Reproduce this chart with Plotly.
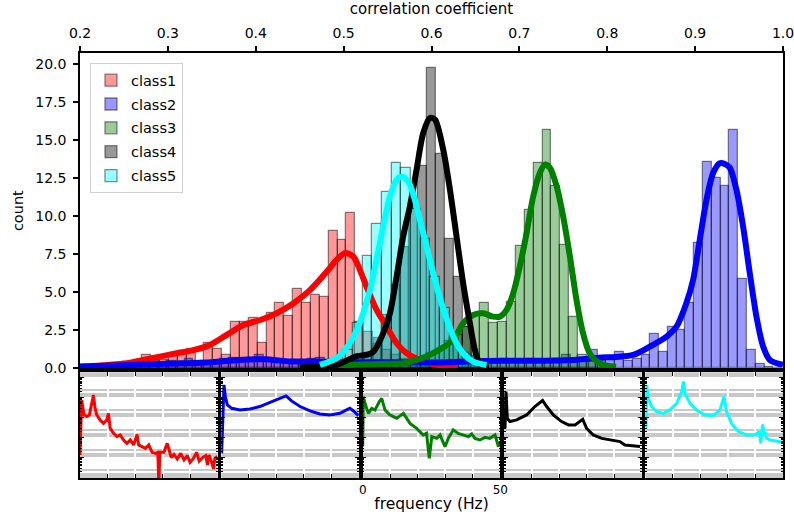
import plotly.graph_objects as go

# ---------------- main histogram data ----------------
class_names = ["class1", "class2", "class3", "class4", "class5"]

# bin layout per class (left edge of first bin, bin width) – data units
bin_start_1, bin_width_1 = 0.2002, 0.0101
counts_1 = [0.1, 0.1, 0.1, 0.15, 0.15, 0.2, 0.2, 0.88, 0.45, 0.55, 0.88, 0.99, 1.25, 0.33,
            1.65, 1.25, 0.9, 3.07, 3.03, 3.3, 1.65, 3.63, 4.28, 3.45, 5.23, 4.28, 4.81, 4.68,
            9.05, 8.46, 10.2, 3.07, 2.4, 1.6, 1.2, 0.9, 0.6, 0.4, 0.3, 0.2, 0.15, 0.1]

bin_start_2, bin_width_2 = 0.199, 0.01
counts_2 = [0.1, 0.1, 0.15, 0.2, 0.2, 0.3, 0.3, 0.35, 0.4, 0.4,
            0.5, 0.4, 0.6, 0.5, 0.4, 0.3, 0.6, 0.7, 0.5, 0.4,
            0.9, 0.5, 0.4, 0.5, 0.4, 0.5, 0.6, 0.7, 0.5, 0.4,
            0.4, 0.3, 0.4, 0.5, 0.4, 0.3, 0.3, 0.4, 0.5, 0.4,
            0.3, 0.3, 0.5, 0.4, 0.6, 0.4, 0.5, 0.4, 0.6, 0.5,
            0.5, 0.6, 0.5, 0.4, 0.6, 0.9, 0.5, 0.4, 1.2, 0.5,
            0.6, 1.05, 0.5, 0.6, 0.9, 2.26, 1.1, 2.7, 2.49, 4.28,
            8.24, 13.6, 12.5, 12.0, 15.66, 5.9, 1.2, 0.3, 0.1, 0.0]

bin_start_3, bin_width_3 = 0.48405, 0.0101
counts_3 = [0.1, 0.1, 0.15, 0.2, 0.2, 0.25, 0.3, 0.3, 0.35, 0.5, 0.6, 1.0, 1.3, 1.8, 2.2,
            2.7, 3.6, 4.28, 2.97, 3.08, 4.39, 8.02, 10.4, 13.5, 15.66, 12.0, 8.1, 3.4,
            0.88, 0.4, 0.2, 0.1]

bin_start_4, bin_width_4 = 0.49395, 0.0101
counts_4 = [0.2, 0.5, 0.8, 1.0, 2.0, 3.5, 5.5, 8.0, 11.0, 13.3, 19.76, 14.1, 8.5, 6.0, 2.7,
            0.8, 0.2]

bin_start_5, bin_width_5 = 0.4668, 0.011
counts_5 = [0.2, 0.3, 0.5, 1.2, 3.0, 7.4, 9.5, 11.6, 13.5, 13.2, 10.5, 8.5, 6.0, 4.0, 2.0,
            1.0, 0.4]

# density curves (correlation coefficient, count)
kde1_x = [0.2, 0.253, 0.272, 0.291, 0.31, 0.329, 0.348, 0.367, 0.386, 0.405, 0.424, 0.443,
          0.462, 0.481, 0.492, 0.5015, 0.511, 0.5185, 0.526, 0.5375, 0.549, 0.5603, 0.5717,
          0.5868, 0.6, 0.615, 0.63]
kde1_y = [0.1, 0.33, 0.55, 0.77, 0.99, 1.2, 1.54, 2.2, 2.85, 3.18, 3.63, 4.28, 5.16, 6.37,
          7.14, 7.58, 7.36, 6.48, 5.38, 3.84, 2.74, 1.65, 0.99, 0.55, 0.3, 0.15, 0.05]

kde2_x = [0.2, 0.25, 0.3, 0.35, 0.38, 0.41, 0.44, 0.47, 0.5, 0.53, 0.56, 0.6, 0.64, 0.68,
          0.72, 0.76, 0.79, 0.81, 0.8295, 0.8485, 0.8675, 0.8788, 0.89, 0.8977, 0.9053,
          0.913, 0.9205, 0.928, 0.9338, 0.9395, 0.947, 0.9546, 0.9622, 0.9698, 0.9774,
          0.985, 1.0]
kde2_y = [0.12, 0.2, 0.3, 0.4, 0.55, 0.6, 0.45, 0.45, 0.4, 0.4, 0.4, 0.38, 0.45, 0.5, 0.5,
          0.55, 0.7, 0.75, 0.88, 1.43, 2.09, 2.74, 4.28, 5.82, 8.46, 11.1, 12.85, 13.5,
          13.45, 13.2, 11.75, 9.33, 6.26, 3.4, 1.43, 0.55, 0.22]

kde3_x = [0.48, 0.52, 0.55, 0.568, 0.583, 0.598, 0.6247, 0.636, 0.6475, 0.6588, 0.670,
          0.6778, 0.6854, 0.693, 0.7005, 0.7082, 0.7157, 0.7233, 0.729, 0.7347, 0.7423,
          0.7498, 0.7574, 0.765, 0.7725, 0.78, 0.7916, 0.81]
kde3_y = [0.15, 0.25, 0.3, 0.33, 0.55, 0.88, 1.87, 2.97, 3.51, 3.62, 3.4, 3.4, 3.84, 4.94,
          6.7, 8.9, 11.3, 12.85, 13.4, 13.2, 12.0, 10.0, 7.4, 4.5, 2.3, 0.99, 0.33, 0.1]

kde4_x = [0.45, 0.48, 0.492, 0.503, 0.515, 0.527, 0.534, 0.545, 0.5527, 0.5603, 0.5678,
          0.5754, 0.583, 0.5906, 0.5982, 0.604, 0.6133, 0.621, 0.6285, 0.636, 0.6437,
          0.6494, 0.655, 0.665]
kde4_y = [0.05, 0.15, 0.22, 0.5, 0.8, 0.9, 1.1, 2.3, 3.63, 6.04, 8.68, 10.65, 13.07, 15.5,
          16.48, 16.37, 14.4, 11.75, 8.68, 5.6, 2.97, 1.2, 0.3, 0.05]

kde5_x = [0.473, 0.492, 0.503, 0.515, 0.5223, 0.53, 0.5375, 0.545, 0.5527, 0.5603, 0.566,
          0.5735, 0.581, 0.5887, 0.5963, 0.6039, 0.6115, 0.619, 0.6266, 0.636, 0.6475, 0.6627]
kde5_y = [0.22, 0.66, 1.32, 2.52, 3.63, 5.16, 7.14, 9.33, 11.3, 12.4, 12.6, 12.3, 11.1, 9.33,
          7.58, 5.82, 4.28, 2.97, 1.87, 0.99, 0.44, 0.22]

# ---------------- spectra (frequency Hz, log10 amplitude) ----------------
red_f = [0.0, 0.61, 1.46, 2.44, 3.41, 4.27, 4.88, 5.48, 6.09, 7.31, 8.53, 9.75, 10.36, 10.97,
         12.19, 13.41, 14.63, 15.85, 17.06, 18.28, 19.5, 20.72, 21.33, 22.55, 23.77, 24.99,
         26.2, 27.43, 28.28, 28.65, 29.0, 30.48, 31.7, 32.3, 33.16, 34.13, 35.35, 36.57,
         37.8, 39.0, 40.0, 41.2, 42.4, 43.3, 44.5, 45.7, 46.3, 46.9, 47.8, 48.5, 49.0, 50.0]
red_p = [-3.85, -1.1, -1.85, -1.93, -1.85, -1.35, -0.85, -1.52, -1.85, -2.1, -2.27, -2.1,
         -1.77, -2.52, -2.77, -2.93, -2.85, -3.1, -3.27, -3.1, -3.35, -2.82, -3.35, -3.43,
         -3.52, -3.35, -3.72, -3.77, -3.72, -5.4, -3.72, -3.72, -3.27, -3.55, -3.98, -3.82,
         -4.05, -3.77, -4.1, -3.88, -4.22, -4.02, -3.72, -4.15, -3.98, -3.88, -4.35, -3.85,
         -4.18, -4.55, -4.02, -3.93]

blue_f = [0.11, 0.48, 0.96, 1.45, 2.17, 3.75, 6.77, 10.4, 14.0, 17.7, 21.3, 23.5, 25.5, 28.6,
          32.2, 35.8, 39.5, 43.1, 45.5, 46.7, 48.0, 49.8]
blue_p = [-3.77, -1.85, -0.35, -0.93, -1.35, -1.52, -1.6, -1.55, -1.43, -1.22, -1.02, -0.9,
          -1.15, -1.43, -1.65, -1.8, -1.85, -1.77, -1.6, -1.52, -1.65, -1.88]

green_f = [0.0, 0.24, 1.2, 2.06, 3.27, 4.48, 6.06, 6.9, 8.1, 9.9, 12.36, 14.8, 16.0, 17.2,
           19.6, 20.8, 22.0, 23.2, 24.2, 25.1, 26.9, 28.1, 29.9, 31.1, 32.9, 34.7, 36.6,
           38.4, 39.6, 40.8, 42.6, 44.4, 46.2, 48.1, 49.3, 49.8]
green_p = [-3.43, -0.93, -1.43, -1.77, -1.52, -1.6, -1.18, -1.02, -1.6, -1.85, -2.02, -1.77,
           -2.02, -2.27, -2.52, -2.68, -2.85, -2.77, -4.02, -2.93, -3.02, -2.85, -3.43,
           -3.02, -2.6, -2.77, -2.85, -2.93, -2.8, -3.02, -3.1, -2.97, -3.02, -2.85, -3.43,
           -3.18]

black_f = [0.34, 0.7, 1.19, 2.16, 4.58, 8.2, 11.2, 14.0, 15.5, 17.9, 20.9, 23.4, 25.8, 27.6,
           28.6, 30.0, 32.4, 35.5, 39.1, 42.1, 43.9, 46.4, 49.4]
black_p = [-2.52, -0.68, -2.02, -2.18, -2.1, -1.85, -1.43, -1.13, -1.43, -1.85, -2.18, -2.35,
           -2.35, -2.18, -2.07, -2.52, -2.85, -3.02, -3.1, -3.18, -3.35, -3.4, -3.43]

cyan_f = [0.21, 0.46, 1.06, 2.27, 4.1, 6.5, 8.9, 11.35, 13.2, 13.8, 14.4, 16.2, 18.6, 21.65,
          24.7, 27.1, 28.55, 29.5, 31.3, 33.8, 36.8, 39.8, 41.4, 41.9, 42.6, 43.1, 43.6,
          44.05, 45.3, 47.7, 50.0]
cyan_p = [-2.52, -0.35, -1.02, -1.43, -1.68, -1.77, -1.6, -1.27, -0.68, -0.18, -0.77, -1.27,
          -1.6, -1.85, -1.88, -1.6, -0.93, -1.68, -2.27, -2.68, -2.85, -2.85, -2.68, -3.27,
          -2.32, -2.77, -2.77, -3.02, -3.1, -3.15, -3.22]

# ---------------- styling ----------------
line_colors = ["red", "blue", "green", "black", "cyan"]
fill_colors = ["rgba(255,0,0,0.4)", "rgba(0,0,255,0.4)", "rgba(0,128,0,0.4)",
               "rgba(0,0,0,0.4)", "rgba(0,255,255,0.4)"]
edge_color = "rgba(0,0,0,0.45)"
FONT = "DejaVu Sans"

hist_specs = [(bin_start_1, bin_width_1, counts_1), (bin_start_2, bin_width_2, counts_2),
              (bin_start_3, bin_width_3, counts_3), (bin_start_4, bin_width_4, counts_4),
              (bin_start_5, bin_width_5, counts_5)]
kdes = [(kde1_x, kde1_y), (kde2_x, kde2_y), (kde3_x, kde3_y), (kde4_x, kde4_y), (kde5_x, kde5_y)]
spectra = [(red_f, red_p), (blue_f, blue_p), (green_f, green_p), (black_f, black_p), (cyan_f, cyan_p)]

fig = go.Figure()

for k, (start, w, cnts) in enumerate(hist_specs):
    centers = [start + w * (i + 0.5) for i in range(len(cnts))]
    fig.add_trace(go.Bar(
        x=centers, y=cnts, width=w, name=class_names[k], legendgroup=class_names[k],
        marker=dict(color=fill_colors[k], line=dict(color=edge_color, width=1.3)),
        xaxis="x", yaxis="y", hoverinfo="skip"))

for k, (kx, ky) in enumerate(kdes):
    fig.add_trace(go.Scatter(
        x=kx, y=ky, mode="lines", line=dict(color=line_colors[k], width=6, shape="spline",
                                           smoothing=0.8),
        showlegend=False, xaxis="x", yaxis="y", hoverinfo="skip"))

for k, (f, p) in enumerate(spectra):
    fig.add_trace(go.Scatter(
        x=f, y=[10 ** v for v in p], mode="lines",
        line=dict(color=line_colors[k], width=3),
        showlegend=False, xaxis=f"x{k + 2}", yaxis=f"y{k + 2}", hoverinfo="skip"))

layout = dict(
    width=794, height=515,
    margin=dict(l=80, r=11, t=53, b=37),
    paper_bgcolor="white", plot_bgcolor="white",
    barmode="overlay", bargap=0,
    font=dict(family=FONT, size=14, color="black"),
    showlegend=True,
    legend=dict(x=0.0142, y=0.976, xanchor="left", yanchor="top", bgcolor="white",
                bordercolor="#d0d0d0", borderwidth=1, font=dict(size=14.5),
                tracegroupgap=2, itemwidth=30),
    xaxis=dict(domain=[0, 1], range=[0.2, 1.0], side="top", anchor="y", tick0=0.2,
               dtick=0.1, tickformat=".1f", ticks="outside", ticklen=5, tickwidth=1.5,
               tickcolor="black", showline=True, linecolor="black", linewidth=1.5,
               mirror=True, showgrid=False, zeroline=False, automargin=False,
               ticklabelstandoff=3, ticklabeloverflow="allow",
               title=dict(text="correlation coefficient", standoff=6, font=dict(size=15))),
    yaxis=dict(domain=[0.2581, 1], range=[0, 20.75], anchor="x", dtick=2.5,
               tickformat=".1f", ticks="outside", ticklen=5, tickwidth=1.5,
               tickcolor="black", showline=True, linecolor="black", linewidth=1.5,
               mirror=True, showgrid=False, zeroline=False, automargin=False,
               ticklabelstandoff=4,
               title=dict(text="count", standoff=8, font=dict(size=14.5))),
)

panel_w, panel_gap = 137.6 / 703, 3.75 / 703
shapes = []
for k in range(5):
    x0 = k * (panel_w + panel_gap)
    x1 = x0 + panel_w if k < 4 else 1.0
    xa = dict(domain=[x0, x1], anchor=f"y{k + 2}", range=[0, 50], dtick=10,
              ticks="inside", ticklen=4, tickwidth=1, tickcolor="black",
              showline=True, linecolor="black", linewidth=1.5, mirror="allticks",
              showgrid=True, gridcolor="white", gridwidth=2, zeroline=False,
              showticklabels=False, automargin=False)
    if k == 2:
        xa.update(showticklabels=True, tickvals=[0, 10, 20, 30, 40, 50],
                  ticktext=["0", "", "", "", "", "50"], tickfont=dict(size=12),
                  title=dict(text="frequency (Hz)", standoff=2, font=dict(size=15.5)))
    ya = dict(domain=[0, 0.2487], anchor=f"x{k + 2}", type="log", range=[-5, 0.28],
              dtick=1, ticks="inside", ticklen=4, tickwidth=1, tickcolor="black",
              showline=True, linecolor="black", linewidth=1.5, mirror="allticks",
              showgrid=True, gridcolor="white", gridwidth=2, zeroline=False,
              showticklabels=False, automargin=False,
              minor=dict(dtick="D1", showgrid=True, gridcolor="white", gridwidth=1.5,
                         ticks="inside", ticklen=2, tickcolor="black"))
    layout[f"xaxis{k + 2}"] = xa
    layout[f"yaxis{k + 2}"] = ya
    shapes.append(dict(type="rect", xref=f"x{k + 2} domain", yref=f"y{k + 2} domain",
                       x0=0, x1=1, y0=0, y1=1, fillcolor="#c8c8c8", line=dict(width=0),
                       layer="below"))
layout["shapes"] = shapes

fig.update_layout(**layout)
# remove the default page margin so the figure fills the window exactly
fig.write_html("out.html",
               config={"displayModeBar": False},
               post_script="document.body.style.margin='0';"
                           "document.body.style.overflow='hidden';"
                           "document.documentElement.style.overflow='hidden';")
